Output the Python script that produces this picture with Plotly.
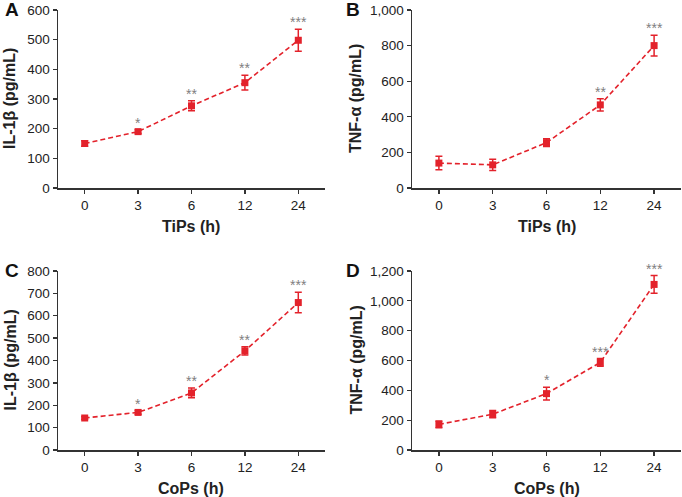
import plotly.graph_objects as go

times = ["0", "3", "6", "12", "24"]

il1b_tips = [150, 190, 277, 355, 498]
il1b_tips_err = [9, 6, 17, 25, 37]
il1b_tips_sig = ["", "*", "**", "**", "***"]

tnf_tips = [140, 130, 255, 467, 800]
tnf_tips_err = [38, 32, 22, 34, 58]
tnf_tips_sig = ["", "", "", "**", "***"]

il1b_cops = [143, 168, 255, 443, 659]
il1b_cops_err = [6, 8, 22, 18, 46]
il1b_cops_sig = ["", "*", "**", "**", "***"]

tnf_cops = [172, 240, 378, 587, 1110]
tnf_cops_err = [22, 24, 42, 26, 59]
tnf_cops_sig = ["", "", "*", "***", "***"]

panels = [
    dict(letter="A", y=il1b_tips, err=il1b_tips_err, sig=il1b_tips_sig,
         ytitle="IL-1β (pg/mL)", xtitle="TiPs (h)", ymax=600, dtick=100),
    dict(letter="B", y=tnf_tips, err=tnf_tips_err, sig=tnf_tips_sig,
         ytitle="TNF-α (pg/mL)", xtitle="TiPs (h)", ymax=1000, dtick=200),
    dict(letter="C", y=il1b_cops, err=il1b_cops_err, sig=il1b_cops_sig,
         ytitle="IL-1β (pg/mL)", xtitle="CoPs (h)", ymax=800, dtick=100),
    dict(letter="D", y=tnf_cops, err=tnf_cops_err, sig=tnf_cops_sig,
         ytitle="TNF-α (pg/mL)", xtitle="CoPs (h)", ymax=1200, dtick=200),
]

W, H = 682, 497
# pixel boxes: (left, right, top, bottom)
boxes = [(58, 325, 10, 188), (412, 681, 10, 188),
         (58, 325, 271, 450), (412, 681, 271, 450)]
ytitle_x = [10, 356, 10, 356]
letter_x = [3, 344, 3, 344]

RED = "#e3222b"
GREY = "#808080"
AX = "#333333"
FONT = "Liberation Sans, Arial, sans-serif"

fig = go.Figure()
annotations = []
for i, p in enumerate(panels):
    n = i + 1
    xa = "x" if n == 1 else f"x{n}"
    ya = "y" if n == 1 else f"y{n}"
    l, r, t, b = boxes[i]
    fig.add_trace(go.Scatter(
        x=times, y=p["y"], xaxis=xa, yaxis=ya, mode="lines+markers",
        line=dict(color=RED, width=1.6, dash="5px,3px"),
        marker=dict(symbol="square", size=7, color=RED),
        error_y=dict(type="data", array=p["err"], visible=True,
                     color=RED, thickness=1.5, width=3.5),
        showlegend=False, hoverinfo="skip"))
    axkw = dict(showline=True, linecolor=AX, linewidth=1.5, ticks="outside",
                ticklen=4, tickwidth=1.3, tickcolor=AX, showgrid=False,
                zeroline=False, automargin=False,
                tickfont=dict(family=FONT, size=13.5, color="#222"))
    fig.layout[f"xaxis{'' if n == 1 else n}"] = dict(
        domain=[l / W, r / W], anchor=ya, type="category",
        range=[-0.5, 4.5], **axkw)
    fig.layout[f"yaxis{'' if n == 1 else n}"] = dict(
        domain=[1 - b / H, 1 - t / H], anchor=xa, range=[0, p["ymax"]],
        dtick=p["dtick"], tickformat=",d", **axkw)
    for k, (yv, ev, s) in enumerate(zip(p["y"], p["err"], p["sig"])):
        if s:
            annotations.append(dict(
                x=k, y=yv + ev, xref=xa, yref=ya, text=s, showarrow=False,
                yanchor="bottom", yshift=-3,
                font=dict(family=FONT, size=14, color=GREY)))
    # axis titles
    annotations.append(dict(
        x=ytitle_x[i] / W, y=1 - ((t + b) / 2) / H, xref="paper", yref="paper",
        text=f"<b>{p['ytitle']}</b>", textangle=-90, showarrow=False,
        xanchor="center", yanchor="middle",
        font=dict(family=FONT, size=16, color="#222")))
    annotations.append(dict(
        x=((l + r) / 2) / W, y=1 - (b + 38) / H, xref="paper", yref="paper",
        text=f"<b>{p['xtitle']}</b>", showarrow=False,
        xanchor="center", yanchor="middle",
        font=dict(family=FONT, size=16, color="#222")))
    annotations.append(dict(
        x=letter_x[i] / W, y=1 - (t - 1) / H, xref="paper", yref="paper",
        text=f"<b>{p['letter']}</b>", showarrow=False,
        xanchor="left", yanchor="middle",
        font=dict(family=FONT, size=19, color="#111")))

fig.update_layout(template="none", width=W, height=H,
                  margin=dict(l=0, r=0, t=0, b=0, autoexpand=False),
                  paper_bgcolor="white", plot_bgcolor="white",
                  annotations=annotations)
fig.write_html("out.html",
               config={"displayModeBar": False, "staticPlot": True},
               post_script="document.body.style.margin='0';"
                           "document.body.style.padding='0';"
                           "document.body.style.overflow='hidden';")
